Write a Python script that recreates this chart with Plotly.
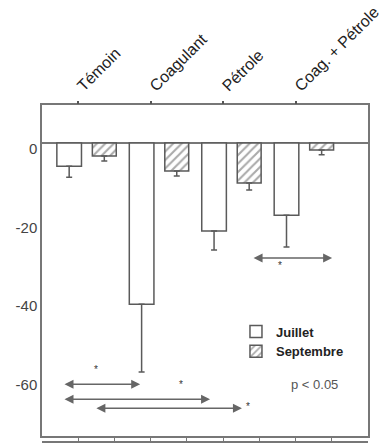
import plotly.graph_objects as go

categories = ["Témoin", "Coagulant", "Pétrole", "Coag. + Pétrole"]
juillet = [-5.9, -41.1, -22.4, -18.4]
juillet_err = [2.8, 17.3, 4.9, 8.1]
septembre = [-3.3, -7.1, -10.2, -1.8]
septembre_err = [1.3, 1.3, 1.8, 1.2]

# significance arrows: (x_start, x_end, y, star_x, star_y)
arrow_x0 = [0.58, 0.58, 1.46, 5.80]
arrow_x1 = [2.71, 4.64, 5.52, 8.01]
arrow_y = [-61.5, -65.3, -67.6, -29.3]
star_x = [1.49, 3.84, 5.69, 6.57]
star_y = [-57.7, -61.5, -67.3, -31.1]

y_ticks = [0, -20, -40, -60]
y_tick_labels = ["0", "-20", "-40", "-60"]

n = len(categories)
xj = [2 * i + 0.75 for i in range(n)]
xs = [2 * i + 1.72 for i in range(n)]
cat_ticks = [2 * i + 1 for i in range(n)]

line_col = "#5a5a5a"
FONT = "Liberation Sans, Arial, sans-serif"

fig = go.Figure()
fig.add_trace(go.Bar(
    x=xj, y=juillet, width=0.68, name="Juillet",
    marker=dict(color="white", line=dict(color=line_col, width=1.5)),
    error_y=dict(type="data", symmetric=False, array=[0] * n, arrayminus=juillet_err,
                 color=line_col, thickness=1.5, width=3),
))
fig.add_trace(go.Bar(
    x=xs, y=septembre, width=0.66, name="Septembre",
    marker=dict(color="white", line=dict(color=line_col, width=1.5),
                pattern=dict(shape="/", fgcolor="#555555", bgcolor="white", size=6, solidity=0.35)),
    error_y=dict(type="data", symmetric=False, array=[0] * n, arrayminus=septembre_err,
                 color=line_col, thickness=1.5, width=3),
))

for x0, x1, y in zip(arrow_x0, arrow_x1, arrow_y):
    fig.add_annotation(x=x1, y=y, ax=x0, ay=y, xref="x", yref="y", axref="x", ayref="y",
                       text="", showarrow=True, arrowhead=2, startarrowhead=2,
                       arrowside="end+start", arrowsize=1.2, startarrowsize=1.2,
                       arrowwidth=1.5, arrowcolor="#666666")
for sx, sy in zip(star_x, star_y):
    fig.add_annotation(x=sx, y=sy, xref="x", yref="y", text="*", showarrow=False,
                       font=dict(family=FONT, size=10, color="#333"))

fig.add_annotation(x=7.51, y=-61.5, xref="x", yref="y", text="p < 0.05", showarrow=False,
                   font=dict(family=FONT, size=13, color="#555"))

fig.add_trace(go.Scatter(x=[0], y=[0], xaxis="x2", showlegend=False, mode="markers",
                         marker=dict(opacity=0), hoverinfo="skip"))
fig.add_trace(go.Scatter(x=[0], y=[0], xaxis="x3", showlegend=False, mode="markers",
                         marker=dict(opacity=0), hoverinfo="skip"))

fig.update_layout(
    width=383, height=445,
    margin=dict(l=42, r=15, t=105, b=0),
    paper_bgcolor="white", plot_bgcolor="white",
    showlegend=True,
    legend=dict(x=0.595, y=0.378, xanchor="left", yanchor="top",
                font=dict(family=FONT, size=13, color="#222", weight="bold"),
                bgcolor="rgba(0,0,0,0)", itemwidth=30, tracegroupgap=0),
    barmode="overlay",
    xaxis=dict(range=[0, 9], domain=[0, 1], showline=True, linecolor="#777", linewidth=1.5,
               mirror=True, showticklabels=False, ticks="", showgrid=False, zeroline=False),
    xaxis2=dict(range=[0, 9], overlaying="x", side="top", anchor="y", showline=False,
                tickmode="array", tickvals=cat_ticks, ticktext=categories, tickangle=-45,
                ticks="outside", ticklen=3, tickcolor="#555", tickwidth=2,
                tickfont=dict(family=FONT, size=16, color="#222"), showgrid=False, zeroline=False),
    xaxis3=dict(range=[0, 9], overlaying="x", side="bottom", anchor="free", position=0.009,
                showline=True, linecolor="#777", linewidth=1.5,
                tickmode="array", tickvals=list(range(1, 9)), ticks="inside", ticklen=4,
                tickcolor="#777", showticklabels=False, showgrid=False, zeroline=False),
    yaxis=dict(range=[-74.7, 9.7], domain=[0.0265, 1], showline=True, linecolor="#777",
               linewidth=1.5, mirror=True, tickmode="array", tickvals=y_ticks,
               ticktext=y_tick_labels, ticks="",
               ticklabelshift=6, ticklabelstandoff=0,
               tickfont=dict(family=FONT, size=15, color="#444"), showgrid=False,
               zeroline=True, zerolinecolor="#777", zerolinewidth=1.5),
)

fig.write_html("out.html")
